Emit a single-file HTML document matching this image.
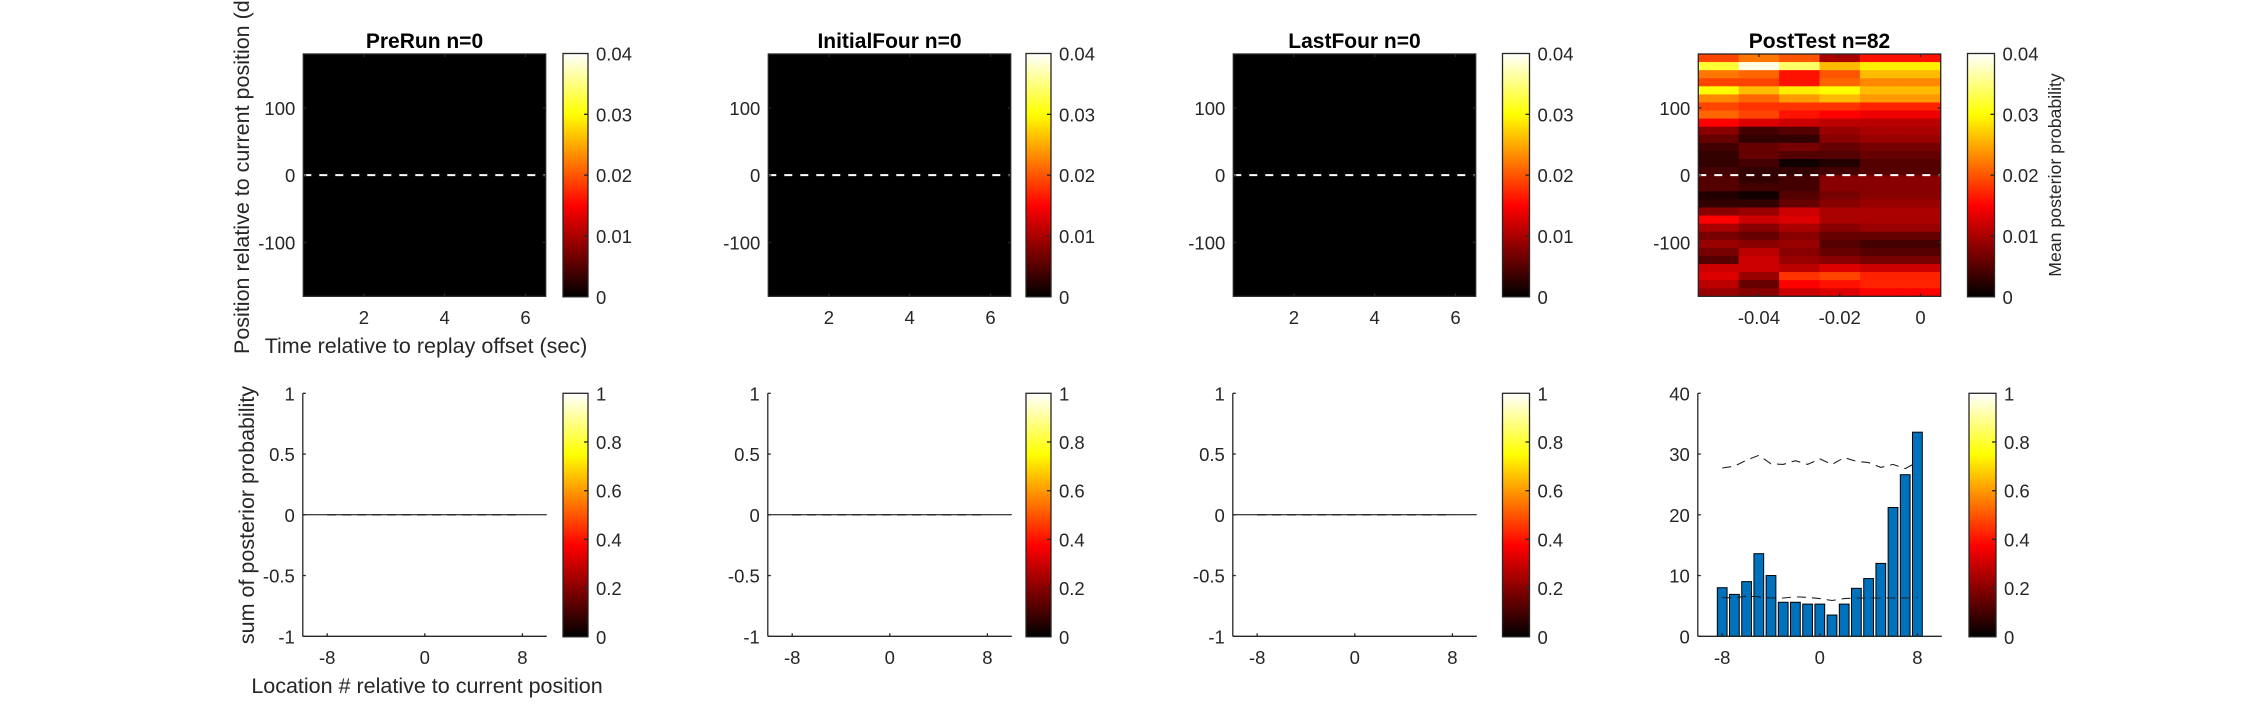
<!DOCTYPE html>
<html><head><meta charset="utf-8">
<style>
html,body{margin:0;padding:0;background:#fff;}
svg{display:block;font-family:"Liberation Sans",Arial,sans-serif;}
</style></head>
<body>
<svg id="fig" width="2256" height="716" viewBox="0 0 2256 716" xmlns="http://www.w3.org/2000/svg"></svg>
<script>
// ---- data ----
const panelTitles = ["PreRun n=0", "InitialFour n=0", "LastFour n=0", "PostTest n=82"];
const heatTicksX = [2, 4, 6];
const postTicksX = [-0.04, -0.02, 0];
const heatTicksY = [100, 0, -100];
const cbTicksTop = [0, 0.01, 0.02, 0.03, 0.04];
const cbTicksBottom = [0, 0.2, 0.4, 0.6, 0.8, 1];
const postCols = [-0.05, -0.04, -0.03, -0.02, -0.01, 0];
// rows from +180 down to -180, 12 deg each; each row gives 6 column values
const postRows = [
 [0.019,0.022,0.020,0.010,0.016,0.016],
 [0.032,0.039,0.034,0.026,0.029,0.029],
 [0.022,0.021,0.016,0.020,0.026,0.026],
 [0.019,0.019,0.016,0.021,0.023,0.023],
 [0.030,0.026,0.029,0.030,0.026,0.026],
 [0.023,0.021,0.024,0.026,0.024,0.024],
 [0.019,0.018,0.018,0.018,0.017,0.017],
 [0.021,0.019,0.016,0.015,0.014,0.014],
 [0.015,0.013,0.012,0.011,0.011,0.011],
 [0.008,0.004,0.005,0.009,0.010,0.010],
 [0.006,0.003,0.003,0.008,0.009,0.009],
 [0.004,0.006,0.007,0.006,0.007,0.007],
 [0.003,0.006,0.005,0.005,0.006,0.006],
 [0.003,0.004,0.001,0.002,0.005,0.005],
 [0.004,0.003,0.003,0.004,0.005,0.005],
 [0.005,0.003,0.004,0.008,0.008,0.008],
 [0.005,0.004,0.004,0.008,0.008,0.008],
 [0.002,0.001,0.005,0.007,0.008,0.008],
 [0.003,0.003,0.006,0.008,0.009,0.009],
 [0.008,0.009,0.012,0.010,0.010,0.010],
 [0.015,0.012,0.013,0.010,0.010,0.010],
 [0.010,0.008,0.010,0.008,0.009,0.009],
 [0.007,0.006,0.008,0.006,0.006,0.006],
 [0.009,0.008,0.009,0.005,0.004,0.004],
 [0.007,0.011,0.008,0.006,0.005,0.005],
 [0.005,0.012,0.009,0.008,0.007,0.007],
 [0.012,0.012,0.011,0.013,0.012,0.012],
 [0.013,0.009,0.018,0.019,0.017,0.017],
 [0.011,0.006,0.015,0.016,0.017,0.017],
 [0.009,0.008,0.012,0.013,0.015,0.015]
];
const locations = [-8,-7,-6,-5,-4,-3,-2,-1,0,1,2,3,4,5,6,7,8];
const barValues = [8,6.9,9,13.6,10,5.6,5.6,5.3,5.3,3.5,5.3,7.9,9.5,12,21.2,26.6,33.6];
const upperShuffle = [27.7,28,29,29.8,28.4,28.3,28.9,28.3,29.2,28.3,29.4,28.8,28.6,27.8,28.3,27.6,28.7];
const lowerShuffle = [6.4,6.3,6.6,6.5,6.3,6.3,6.5,6.4,6.2,5.9,6.2,6.3,6.3,6.3,6.3,6.3,6.4];
const emptyValues = [0,0,0,0,0,0,0,0,0,0,0,0,0,0,0,0,0];
const bottomTicksX = [-8, 0, 8];
const emptyTicksY = [-1, -0.5, 0, 0.5, 1];
const postTicksY = [0, 10, 20, 30, 40];

// ---- helpers ----
const NS = "http://www.w3.org/2000/svg";
const svg = document.getElementById("fig");
function el(tag, attrs, parent, txt){
  const e = document.createElementNS(NS, tag);
  for (const k in attrs) e.setAttribute(k, attrs[k]);
  if (txt !== undefined) e.textContent = txt;
  (parent || svg).appendChild(e);
  return e;
}
function lin(d0,d1,r0,r1){ return v => r0 + (v-d0)/(d1-d0)*(r1-r0); }
function hot(v, vmax){
  let t = Math.max(0, Math.min(1, v / vmax));
  const r = Math.min(1, t/0.375), g = Math.max(0, Math.min(1, (t-0.375)/0.375)), b = Math.max(0, Math.min(1, (t-0.75)/0.25));
  return `rgb(${Math.round(r*255)},${Math.round(g*255)},${Math.round(b*255)})`;
}
const AX = "#262626", FS = 18.5, LFS = 21.5;

// gradient
const defs = el("defs", {});
const grad = el("linearGradient", {id:"hotgrad", x1:"0", y1:"1", x2:"0", y2:"0"}, defs);
[[0,"#000"],[0.375,"#f00"],[0.75,"#ff0"],[1,"#fff"]].forEach(s => el("stop", {offset:s[0], "stop-color":s[1]}, grad));

function colorbar(x, y0, y1, w, ticks, vmax, name, fmt){
  const g = el("g", {});
  
  
  el("rect", {x:x, y:y0, width:w, height:y1-y0, fill:"url(#hotgrad)", stroke:AX, "stroke-width":1.3}, g);
  const sy = lin(0, vmax, y1, y0);
  ticks.forEach(t => {
    const yy = sy(t);
    if (t > 0 && t < vmax) el("line", {x1:x+w-4, x2:x+w, y1:yy, y2:yy, stroke:AX, "stroke-width":1.3}, g);
    const lab = el("text", {x:x+w+8, y:yy+7, "font-size":FS, fill:AX}, g, fmt(t));
    
    
  });
}

const heatLefts = [303.3, 768.3, 1233.3, 1698.3];
const heatW = 242.4, heatTop = 54, heatBot = 296.3;
const cbLefts = [563, 1026, 1502.5, 1967.5];
const cbW = [25, 25, 27, 27];
const botTop = 393.3, botBot = 636.3;

// ---- top row heatmaps ----
for (let p = 0; p < 4; p++){
  const L = heatLefts[p], R = L + heatW;
  const g = el("g", {});
  
  
  const isPost = p === 3;
  const sx = isPost ? lin(-0.055, 0.005, L, R) : lin(0.5, 6.5, L, R);
  const sy = lin(-180, 180, heatBot, heatTop);
  el("rect", {x:L, y:heatTop, width:heatW, height:heatBot-heatTop, fill:"#000"}, g);
  if (isPost){
    const rowH = 360 / postRows.length;
    postRows.forEach((row, ri) => {
      const yTop = 180 - ri*rowH;
      row.forEach((v, ci) => {
        const c = postCols[ci];
        const x0 = sx(c - 0.005), x1 = sx(c + 0.005);
        const cell = el("rect", {x:x0, y:sy(yTop), width:x1-x0+0.4, height:sy(yTop-rowH)-sy(yTop)+0.4, fill:hot(v, 0.04)}, g);
        
        
      });
    });
  }
  const zl = el("line", {x1:L, x2:R, y1:sy(0), y2:sy(0), stroke:"#fff", "stroke-width":2, "stroke-dasharray":"8,8"}, g);
  
  
  el("rect", {x:L, y:heatTop, width:heatW, height:heatBot-heatTop, fill:"none", stroke:AX, "stroke-width":1.3}, g);
  const xt = isPost ? postTicksX : heatTicksX;
  xt.forEach(t => {
    const xx = sx(t);
    el("line", {x1:xx, x2:xx, y1:heatBot, y2:heatBot-3, stroke:AX, "stroke-width":1.3}, g);
    el("line", {x1:xx, x2:xx, y1:heatTop, y2:heatTop+3, stroke:AX, "stroke-width":1.3}, g);
    const tl = el("text", {x:xx, y:324, "font-size":FS, fill:AX, "text-anchor":"middle"}, g, String(t));
    
    
  });
  heatTicksY.forEach(t => {
    const yy = sy(t);
    el("line", {x1:L, x2:L+3, y1:yy, y2:yy, stroke:AX, "stroke-width":1.3}, g);
    el("line", {x1:R, x2:R-3, y1:yy, y2:yy, stroke:AX, "stroke-width":1.3}, g);
    const tl = el("text", {x:L-8, y:yy+7, "font-size":FS, fill:AX, "text-anchor":"end"}, g, String(t));
    
    
  });
  const ti = el("text", {x:(L+R)/2, y:48, "font-size":21, "font-weight":"bold", fill:"#000", "text-anchor":"middle"}, g, panelTitles[p]);
  
  
  colorbar(cbLefts[p], heatTop - 0.5, heatBot + 0.5, cbW[p], cbTicksTop, 0.04, 'heatmap-colorbar', t => String(t));
  colorbar(cbLefts[p] + (p===3?1.5:0), botTop, botBot + 0.5, cbW[p], cbTicksBottom, 1, 'bar-colorbar', t => String(t));
}

// ---- bottom row ----
for (let p = 0; p < 4; p++){
  const L = heatLefts[p] - 0.5, R = L + 244;
  const g = el("g", {});
  
  
  const isPost = p === 3;
  const sx = lin(-10, 10, L, R);
  const sy = isPost ? lin(0, 40, botBot, botTop) : lin(-1, 1, botBot, botTop);
  const vals = isPost ? barValues : emptyValues;
  const bw = 0.8 * (sx(1) - sx(0));
  if (isPost){
    locations.forEach((loc, i) => {
      const b = el("rect", {x:sx(loc)-bw/2, y:sy(vals[i]), width:bw, height:sy(0)-sy(vals[i]), fill:"#0072BD", stroke:"#000", "stroke-width":1}, g);
      
      
    });
  } else {
    el("line", {x1:L, x2:R, y1:sy(0), y2:sy(0), stroke:"#000", "stroke-width":1}, g);
  }
  const up = isPost ? upperShuffle : emptyValues, lo = isPost ? lowerShuffle : emptyValues;
  [up, lo].forEach((arr, k) => {
    const pts = locations.map((loc, i) => sx(loc).toFixed(1) + "," + sy(arr[i]).toFixed(1)).join(" ");
    const pl = el("polyline", {points:pts, fill:"none", stroke:"#222", "stroke-width":1.1, "stroke-dasharray":"9,6"}, g);
    
    
  });
  el("line", {x1:L, x2:L, y1:botTop, y2:botBot, stroke:AX, "stroke-width":1.3}, g);
  el("line", {x1:L, x2:R, y1:botBot, y2:botBot, stroke:AX, "stroke-width":1.3}, g);
  bottomTicksX.forEach(t => {
    const xx = sx(t);
    el("line", {x1:xx, x2:xx, y1:botBot, y2:botBot-3, stroke:AX, "stroke-width":1.3}, g);
    const tl = el("text", {x:xx, y:664, "font-size":FS, fill:AX, "text-anchor":"middle"}, g, String(t));
    
    
  });
  (isPost ? postTicksY : emptyTicksY).forEach(t => {
    const yy = sy(t);
    el("line", {x1:L, x2:L+3, y1:yy, y2:yy, stroke:AX, "stroke-width":1.3}, g);
    const tl = el("text", {x:L-8, y:yy+7, "font-size":FS, fill:AX, "text-anchor":"end"}, g, String(t));
    
    
  });
}

// ---- axis labels ----
let t;
t = el("text", {x:0, y:0, "font-size":LFS, fill:AX, transform:"translate(249,354) rotate(-90)"}, svg, "Position relative to current position (deg)");


t = el("text", {x:426, y:353, "font-size":LFS, fill:AX, "text-anchor":"middle"}, svg, "Time relative to replay offset (sec)");


t = el("text", {x:0, y:0, "font-size":LFS, fill:AX, "text-anchor":"middle", transform:"translate(254,515) rotate(-90)"}, svg, "sum of posterior probability");


t = el("text", {x:427, y:693, "font-size":LFS, fill:AX, "text-anchor":"middle"}, svg, "Location # relative to current position");


t = el("text", {x:0, y:0, "font-size":17.7, fill:AX, "text-anchor":"middle", transform:"translate(2061,175) rotate(-90)"}, svg, "Mean posterior probability");


</script>
</body></html>
